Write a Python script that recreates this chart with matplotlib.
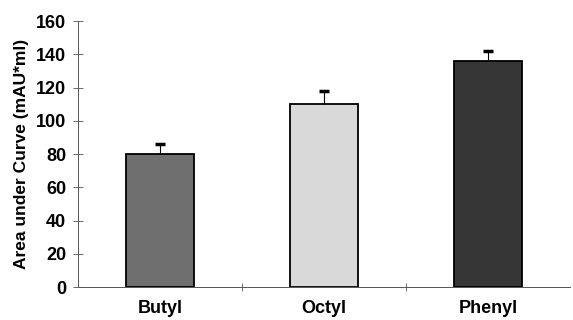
import matplotlib.pyplot as plt
import numpy as np

# Data
categories = ["Butyl", "Octyl", "Phenyl"]
values = [80, 110, 136]
errors = [6, 8, 6]
colors = ["#6f6f6f", "#d9d9d9", "#363636"]

plt.rcParams["font.family"] = ["Liberation Sans", "DejaVu Sans"]

fig = plt.figure(figsize=(5.73, 3.2), dpi=100)
ax = fig.add_axes([0.136, 0.103, 0.859, 0.831])

x = np.arange(len(categories))
ax.bar(x, values, width=0.41, color=colors, edgecolor="black", linewidth=1.3, zorder=2)
# upper error bars only
tops = np.add(values, errors)
ax.vlines(x, values, tops, color="black", linewidth=0.8, zorder=3)
ax.plot(x, tops, linestyle="none", marker="_", markersize=7, markeredgewidth=2.5,
        color="black", zorder=3)

ax.set_xlim(-0.5, len(categories) - 0.5)
ax.set_ylim(0, 160)
ax.set_yticks(range(0, 161, 20))
ax.set_xticks(x)
ax.set_xticklabels(categories, fontweight="bold", fontsize=13)
ax.set_xticks(x[:-1] + 0.5, minor=True)
ax.tick_params(axis="x", which="major", length=0, pad=9)
ax.tick_params(axis="x", which="minor", direction="inout", length=6, width=0.6, color="#555555")
ax.tick_params(axis="y", direction="inout", length=7, width=0.6, color="#555555",
               labelsize=13, pad=5)
for lbl in ax.get_yticklabels():
    lbl.set_fontweight("bold")

ax.set_ylabel("Area under Curve (mAU*ml)", fontweight="bold", fontsize=12.5, labelpad=5)

for s in ["top", "right"]:
    ax.spines[s].set_visible(False)
ax.spines["left"].set_color("#555555")
ax.spines["bottom"].set_color("#555555")
ax.spines["left"].set_linewidth(0.7)
ax.spines["bottom"].set_linewidth(0.7)

fig.savefig("out.png", dpi=100)
